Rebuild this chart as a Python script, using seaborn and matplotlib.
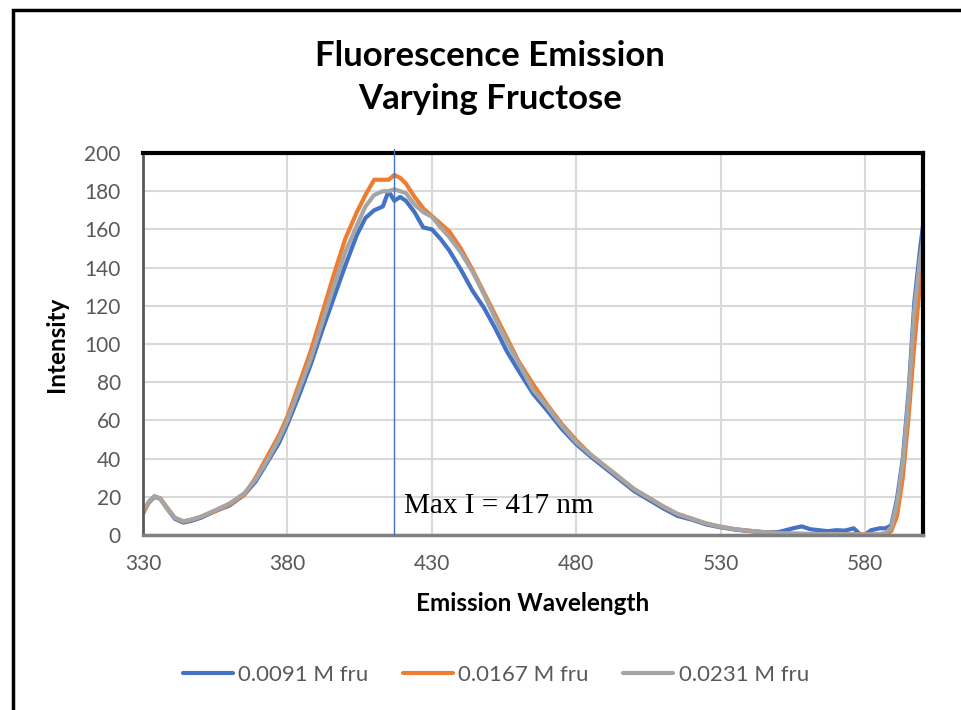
import pandas as pd
import matplotlib.pyplot as plt
import matplotlib.patches as mpatches
import seaborn as sns

# wavelengths (nm) and intensities
wavelength = [330, 332, 334, 336, 338, 341, 344, 347, 350, 355, 360, 365, 369, 373, 377,
              380, 384, 388, 392, 396, 400, 404, 407, 410, 413, 415, 417, 419, 421, 424,
              427, 430, 433, 436, 440, 444, 448, 452, 456, 460, 465, 470, 475, 480, 485,
              490, 495, 500, 505, 510, 515, 520, 525, 530, 535, 540, 545, 550, 555, 558,
              561, 564, 567, 570, 573, 576, 579, 582, 585, 587, 589, 591, 593, 595, 597,
              599, 600]

fru_0091 = [12, 17, 20, 19, 14.5, 8.5, 6.5, 7.5, 9, 12.5, 15.5, 21, 28, 38, 48,
            58, 73, 89, 107, 124, 141, 157, 166, 170, 172, 180, 175, 177, 175, 169,
            161, 160, 155, 149, 139, 128, 119, 108, 96, 86, 74, 65, 55.5, 47.5, 41,
            35, 29, 23, 18.5, 14, 10, 8, 5.5, 4, 2.8, 2, 1.4, 1.5, 3.5, 4.5,
            3, 2.5, 2, 2.5, 2.3, 3.5, -0.8, 2.5, 3.5, 3.5, 5, 19, 40, 75, 122,
            150, 162]

fru_0167 = [11, 17, 20, 19, 15, 9, 7, 8, 9.5, 12.5, 16, 21, 30, 41, 52,
            62, 79, 96, 116, 136, 155, 169, 178, 186, 186, 186, 188.5, 187, 184, 177,
            171, 167, 163, 159, 150, 139, 127, 115, 103, 91, 79, 68, 58, 49.5, 42,
            36, 30, 24, 19.5, 15, 11, 8.5, 6, 4.3, 3, 2.2, 1.5, 1, 0.7, 0.6,
            0.5, 0.5, 0.5, 0.5, 0.4, 0.4, 0.3, 0.3, 0.3, 0.4, 2, 10, 30, 62, 100,
            132, 145]

fru_0231 = [12, 17.5, 20.4, 19.2, 14.5, 9, 7.2, 8.2, 9.5, 13, 16.5, 21.8, 29, 39, 50,
            60, 76, 92, 111, 130, 148, 162, 172, 178, 180, 180, 181, 180, 179, 173,
            169, 166.6, 161, 156, 148, 138, 126, 113, 101, 90, 76, 67, 57, 48.5, 42,
            36, 30, 24, 19.5, 15, 11, 8.5, 6, 4.3, 3, 2.2, 1.5, 1, 0.7, 0.6,
            0.5, 0.5, 0.5, 0.5, 0.4, 0.4, 0.3, 0.3, 0.5, 1, 4, 17, 38, 72, 118,
            145, 155]

series_names = ["0.0091 M fru", "0.0167 M fru", "0.0231 M fru"]
colors = ["#4472C4", "#ED7D31", "#A5A5A5"]
max_wavelength = 417

df = pd.concat([
    pd.DataFrame({"Emission Wavelength": wavelength, "Intensity": vals, "Series": name})
    for name, vals in zip(series_names, [fru_0091, fru_0167, fru_0231])
])

sns.set_theme(style="whitegrid")
plt.rcParams["font.family"] = ["Lato", "DejaVu Sans"]

fig = plt.figure(figsize=(9.61, 7.1), dpi=100)
ax = fig.add_axes([0.1488, 0.2465, 0.8117, 0.538])

sns.lineplot(data=df, x="Emission Wavelength", y="Intensity", hue="Series",
             palette=colors, estimator=None, sort=False, linewidth=3, ax=ax)

# vertical marker at the max
ax.plot([max_wavelength, max_wavelength], [0, 202], color="#4472C4", lw=1, clip_on=False, zorder=5)
ax.text(420.5, 15, "Max I = 417 nm", family=["Liberation Serif", "DejaVu Serif"],
        fontsize=21, color="black", va="center", ha="left")

ax.set_xlim(330, 600)
ax.set_ylim(0, 200)
ax.set_xticks(range(330, 600, 50))
ax.set_yticks(range(0, 201, 20))
ax.grid(True, color="#D9D9D9", lw=1.5)
ax.tick_params(axis="both", length=0, labelsize=15, labelcolor="#595959")
ax.tick_params(axis="y", pad=16)
ax.tick_params(axis="x", pad=14)

ax.set_xlabel("Emission Wavelength", fontsize=17.5, fontweight="bold", color="black", labelpad=13)
ax.set_ylabel("Intensity", fontsize=17.5, fontweight="bold", color="black", labelpad=12)

for side in ["top", "right"]:
    ax.spines[side].set_color("black")
    ax.spines[side].set_linewidth(3)
ax.spines["left"].set_color("#595959")
ax.spines["left"].set_linewidth(2)
ax.spines["bottom"].set_color("#808080")
ax.spines["bottom"].set_linewidth(2.5)

fig.suptitle("Fluorescence Emission\nVarying Fructose", x=0.51, y=0.943,
             fontsize=25, fontweight="bold", color="black", linespacing=1.4)

handles, labels = ax.get_legend_handles_labels()
ax.get_legend().remove()
fig.legend(handles, labels, loc="center", bbox_to_anchor=(0.516, 0.049), ncol=3,
           frameon=False, fontsize=16, labelcolor="#595959", handlelength=2.25,
           handletextpad=0.25, columnspacing=1.55)

# outer chart frame (left and top edges visible)
fig.add_artist(mpatches.Rectangle((13 / 961, -0.1), 1.2, 1.1 - 10 / 710,
                                  transform=fig.transFigure, fill=False,
                                  edgecolor="black", lw=2.5, clip_on=False))

fig.savefig("out.png", dpi=100)
